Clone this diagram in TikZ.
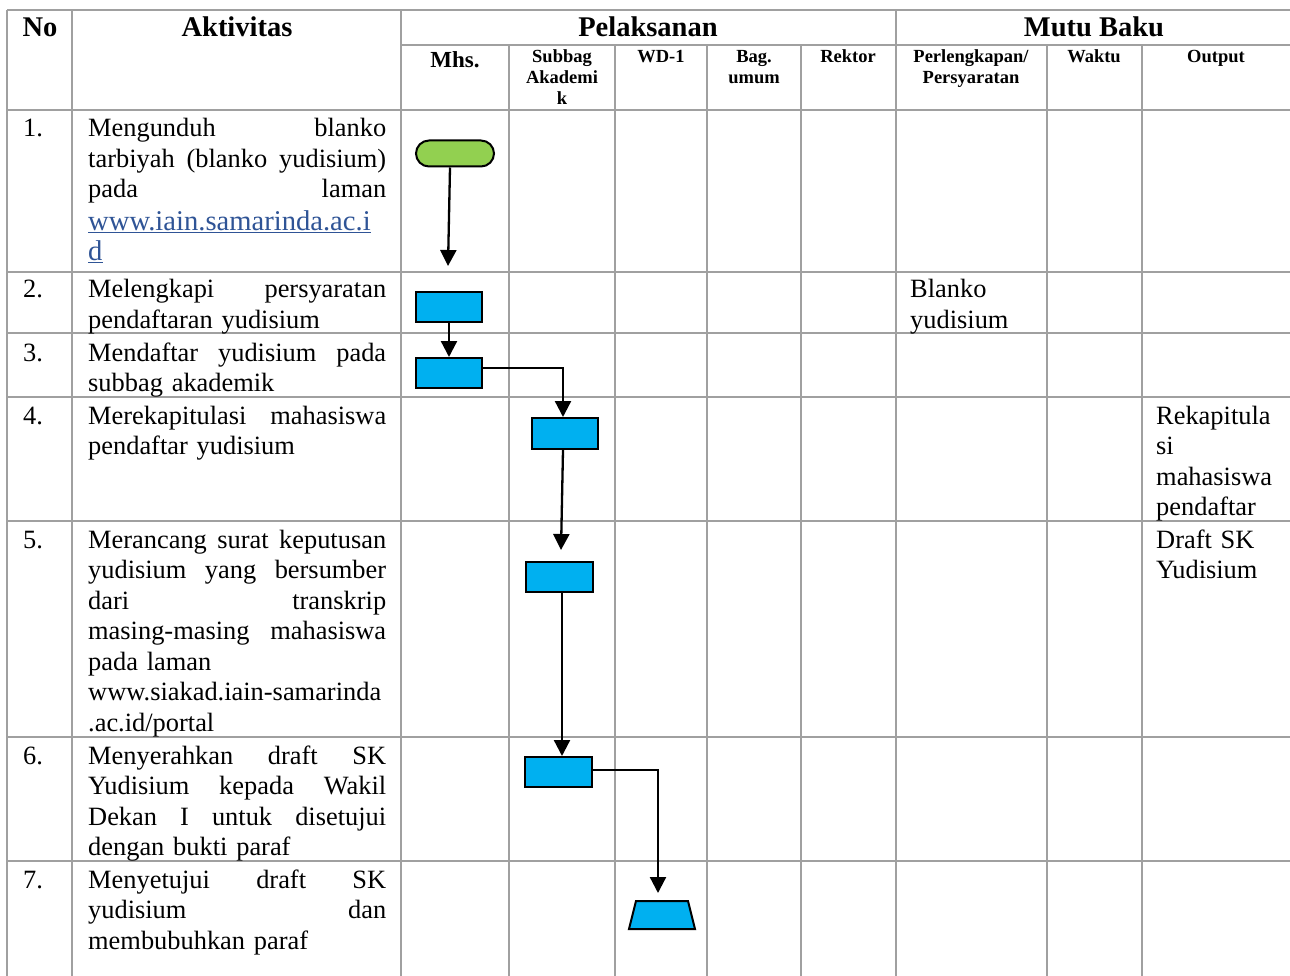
\documentclass[tikz,border=0pt]{standalone}
\usepackage{fontspec}
\setmainfont{Liberation Serif}
\usetikzlibrary{shapes.geometric,arrows.meta}
\definecolor{gridgray}{HTML}{A0A0A0}
\definecolor{procblue}{HTML}{00B0F0}
\definecolor{startgreen}{HTML}{92D050}
\definecolor{linkblue}{HTML}{2F5496}
\newcommand\J[1]{{\spaceskip=0.25em plus 1fil\xspaceskip=0.25em plus 1fil\makebox[298pt][s]{#1}}}
\newcommand\lnk[1]{{\fontsize{28.6}{30.5}\selectfont\textcolor{linkblue}{\underline{#1}}}}
\begin{document}
\begin{tikzpicture}[x=1pt,y=-1pt,
  grid/.style={draw=gridgray, line width=1.3pt},
  proc/.style={draw=black, line width=2pt, fill=procblue, minimum width=66pt, minimum height=30pt, inner sep=0pt},
  flow/.style={line width=2.3pt, -{Triangle[width=16pt,length=16pt]}},
  body/.style={font=\fontsize{26.4}{30.5}\selectfont, inner sep=0pt, anchor=base west},
  para/.style={body, text width=298pt, align=left},
  hd/.style={font=\fontsize{28.5}{30}\selectfont\bfseries, inner sep=0pt, anchor=base},
  sh/.style={font=\fontsize{18.5}{21}\selectfont\bfseries, inner sep=0pt, anchor=base, text width=140pt, align=center}]
\useasboundingbox (0,0) rectangle (1290,976);
\fill[white] (0,0) rectangle (1290,976);
% grid
\draw[grid] (7,10) -- (1290,10);
\draw[grid] (401,45) -- (1290,45);
\foreach \yy in {110,272,333,397,521,737,861} \draw[grid] (7,\yy) -- (1290,\yy);
\draw[grid] (7,10) -- (7,976);
\draw[grid] (72,10) -- (72,976);
\draw[grid] (401,10) -- (401,976);
\draw[grid] (896,10) -- (896,976);
\foreach \xx in {509,615,707,801,1047,1142} \draw[grid] (\xx,45) -- (\xx,976);
% headers
\node[hd] (hNo) at (40,37) {No};
\node[hd] (hAkt) at (237,37) {Aktivitas};
\node[hd] (hPel) at (648,37) {Pelaksanan};
\node[hd] (hMut) at (1094,37) {Mutu Baku};
\node[sh, font=\fontsize{23}{25}\selectfont\bfseries] (hMhs) at (455,68) {Mhs.};
\node[sh] (hSub) at (562,63) {Subbag\\Akademi\\k};
\node[sh] (hWD) at (661,63) {WD-1};
\node[sh] (hBag) at (754,63) {Bag.\\umum};
\node[sh] (hRek) at (848,63) {Rektor};
\node[sh] (hPer) at (971,63) {Perlengkapan/\\Persyaratan};
\node[sh] (hWak) at (1094,63) {Waktu};
\node[sh] (hOut) at (1216,63) {Output};
% numbers
\node[body] (n1) at (23,137) {1.};
\node[body] (n2) at (23,298) {2.};
\node[body] (n3) at (23,361) {3.};
\node[body] (n4) at (23,424) {4.};
\node[body] (n5) at (23,548) {5.};
\node[body] (n6) at (23,764) {6.};
\node[body] (n7) at (23,888) {7.};
% activities
\node[para] (t1) at (88,137) {\J{Mengunduh blanko}\\\J{tarbiyah (blanko yudisium)}\\\J{pada laman}\\[2pt]\lnk{www.iain.samarinda.ac.i}\\\lnk{d}};
\node[para] (t2) at (88,298) {\J{Melengkapi persyaratan}\\pendaftaran yudisium};
\node[para] (t3) at (88,361) {\J{Mendaftar yudisium pada}\\subbag akademik};
\node[para] (t4) at (88,424) {\J{Merekapitulasi mahasiswa}\\pendaftar yudisium};
\node[para] (t5) at (88,548) {\J{Merancang surat keputusan}\\\J{yudisium yang bersumber}\\\J{dari transkrip}\\\J{masing-masing mahasiswa}\\pada laman\\www.siakad.iain-samarinda\\.ac.id/portal};
\node[para] (t6) at (88,764) {\J{Menyerahkan draft SK}\\\J{Yudisium kepada Wakil}\\\J{Dekan I untuk disetujui}\\dengan bukti paraf};
\node[para] (t7) at (88,888) {\J{Menyetujui draft SK}\\\J{yudisium dan}\\membubuhkan paraf};
% mutu baku
\node[body, text width=135pt, align=left] (m2) at (910,298) {Blanko\\yudisium};
\node[body, text width=135pt, align=left] (m4) at (1156,424) {Rekapitula\\si\\mahasiswa\\pendaftar};
\node[body, text width=135pt, align=left] (m5) at (1156,548) {Draft SK\\Yudisium};
% flow shapes
\node[draw=black, line width=2pt, fill=startgreen, rounded corners=13pt, minimum width=78pt, minimum height=26pt, inner sep=0pt] (s1) at (455,153.5) {};
\node[proc] (b2) at (449,307) {};
\node[proc] (b3) at (449,373) {};
\node[proc, minimum height=31pt] (b4) at (565,433.5) {};
\node[proc, minimum width=67pt] (b5) at (559.5,577) {};
\node[proc, minimum width=67pt] (b6) at (558,772) {};
\coordinate (tr) at (662,901);
\draw[line width=2pt, fill=procblue, line join=miter] (636,901) -- (688,901) -- (695,929) -- (629,929) -- cycle;
% connectors
\coordinate (e1) at (448,266);
\coordinate (e4) at (561,550);
\coordinate (e6) at (658,893);
\draw[flow] ([xshift=-5pt]s1.south) -- (e1);
\draw[flow] (b2.south) -- (b3.north);
\draw[flow] ([yshift=5pt]b3.east) -| ([xshift=-2pt]b4.north);
\draw[flow] ([xshift=-2pt]b4.south) -- (e4);
\draw[flow] ([xshift=2.5pt]b5.south) -- ([xshift=4pt]b6.north);
\draw[flow] ([yshift=2pt]b6.east) -| (e6);
\end{tikzpicture}
\end{document}
